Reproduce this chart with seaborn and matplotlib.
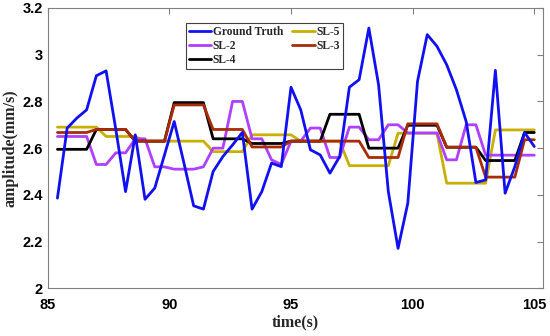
import numpy as np
import pandas as pd
import matplotlib
matplotlib.use("Agg")
import matplotlib.pyplot as plt
import seaborn as sns

# ---------------- data ----------------
time_s = [85.4, 85.8, 86.2, 86.6, 87.0, 87.4, 87.8, 88.2, 88.6, 89.0,
          89.4, 89.8, 90.2, 90.6, 91.0, 91.4, 91.8, 92.2, 92.6, 93.0,
          93.4, 93.8, 94.2, 94.6, 95.0, 95.4, 95.8, 96.2, 96.6, 97.0,
          97.4, 97.8, 98.2, 98.6, 99.0, 99.4, 99.8, 100.2, 100.6, 101.0,
          101.4, 101.8, 102.2, 102.6, 103.0, 103.4, 103.8, 104.2, 104.6, 105.0]

ground_truth = [2.386, 2.686, 2.729, 2.764, 2.910, 2.931, 2.680, 2.414, 2.657, 2.381,
                2.429, 2.571, 2.714, 2.536, 2.353, 2.339, 2.500, 2.564, 2.614, 2.667,
                2.339, 2.414, 2.536, 2.521, 2.861, 2.764, 2.593, 2.571, 2.493, 2.564,
                2.861, 2.893, 3.114, 2.871, 2.414, 2.171, 2.364, 2.886, 3.086, 3.036,
                2.957, 2.850, 2.714, 2.453, 2.464, 2.933, 2.407, 2.521, 2.667, 2.607]

sl2 = [2.650, 2.650, 2.650, 2.650, 2.530, 2.530, 2.580, 2.580, 2.640, 2.640,
       2.520, 2.520, 2.510, 2.510, 2.510, 2.520, 2.600, 2.600, 2.800, 2.800,
       2.640, 2.640, 2.550, 2.530, 2.630, 2.630, 2.686, 2.686, 2.560, 2.560,
       2.690, 2.690, 2.636, 2.636, 2.700, 2.700, 2.665, 2.665, 2.665, 2.665,
       2.550, 2.550, 2.700, 2.700, 2.570, 2.570, 2.570, 2.570, 2.570, 2.570]

sl3 = [2.667, 2.667, 2.667, 2.667, 2.680, 2.680, 2.680, 2.680, 2.630, 2.630,
       2.630, 2.630, 2.785, 2.785, 2.785, 2.785, 2.680, 2.680, 2.680, 2.680,
       2.605, 2.605, 2.605, 2.605, 2.630, 2.630, 2.630, 2.630, 2.630, 2.630,
       2.630, 2.630, 2.560, 2.560, 2.560, 2.560, 2.704, 2.704, 2.704, 2.704,
       2.604, 2.604, 2.604, 2.604, 2.476, 2.476, 2.476, 2.476, 2.636, 2.636]

sl4 = [2.595, 2.595, 2.595, 2.595, 2.680, 2.680, 2.680, 2.680, 2.630, 2.630,
       2.630, 2.630, 2.795, 2.795, 2.795, 2.795, 2.640, 2.640, 2.640, 2.640,
       2.620, 2.620, 2.620, 2.620, 2.630, 2.630, 2.630, 2.630, 2.745, 2.745,
       2.745, 2.745, 2.600, 2.600, 2.600, 2.600, 2.698, 2.698, 2.698, 2.698,
       2.604, 2.604, 2.604, 2.604, 2.547, 2.547, 2.547, 2.547, 2.667, 2.667]

sl5 = [2.690, 2.690, 2.690, 2.690, 2.690, 2.650, 2.650, 2.650, 2.650, 2.630,
       2.630, 2.630, 2.630, 2.630, 2.630, 2.630, 2.585, 2.585, 2.585, 2.585,
       2.657, 2.657, 2.657, 2.657, 2.657, 2.630, 2.630, 2.630, 2.630, 2.630,
       2.525, 2.525, 2.525, 2.525, 2.525, 2.664, 2.664, 2.664, 2.664, 2.664,
       2.450, 2.450, 2.450, 2.450, 2.450, 2.678, 2.678, 2.678, 2.678, 2.678]

series_names = ["Ground Truth", "SL-5", "SL-2", "SL-4", "SL-3"]
series_values = [ground_truth, sl5, sl2, sl4, sl3]
series_colors = ["#1010f0", "#c8b000", "#b040ff", "#000000", "#a82c08"]
series_z = [6, 2, 3, 4, 5]

x_ticks = [85, 90, 95, 100, 105]
y_ticks = [2.0, 2.2, 2.4, 2.6, 2.8, 3.0, 3.2]
y_tick_labels = ["2", "2.2", "2.4", "2.6", "2.8", "3", "3.2"]

# ---------------- plot ----------------
sns.set_style("white")
plt.rcParams["font.family"] = ["Liberation Serif", "DejaVu Serif"]

fig = plt.figure(figsize=(5.5, 3.36), dpi=100)
ax = fig.add_axes([47.7 / 550, (336 - 288.3) / 336, 495.6 / 550, 280.3 / 336])

for name, vals, col, z in zip(series_names, series_values, series_colors, series_z):
    df = pd.DataFrame({"t": time_s, "v": vals})
    sns.lineplot(data=df, x="t", y="v", ax=ax, color=col, linewidth=2.0,
                 estimator=None, sort=False, zorder=z, label=name)

h, l = ax.get_legend_handles_labels()
hmap = dict(zip(l, h))
order = ["Ground Truth", "SL-2", "SL-4", "SL-5", "SL-3"]
leg = ax.legend([hmap[o] for o in order], order, ncol=2, loc="upper left",
                bbox_to_anchor=(0.279, 0.946), borderaxespad=0,
                prop={"family": "Liberation Serif", "weight": "bold", "size": 8.3},
                handlelength=1.95, handletextpad=0.12, labelspacing=0.17,
                columnspacing=0.8, borderpad=0.25, fancybox=False, framealpha=1)
leg.get_frame().set_edgecolor("#404040")
leg.get_frame().set_linewidth(0.8)

ax.set_xlim(85, 105.37)
ax.set_ylim(2.0, 3.2)
ax.set_xticks(x_ticks)
ax.set_xticklabels([str(x) for x in x_ticks])
ax.set_yticks(y_ticks)
ax.set_yticklabels(y_tick_labels)

for lab in ax.get_xticklabels() + ax.get_yticklabels():
    lab.set_family("Liberation Sans")
    lab.set_fontweight("bold")
    lab.set_fontsize(10.5)

ax.tick_params(direction="in", length=4, width=0.8, color="#808080",
               top=True, right=True, labelcolor="black")
ax.tick_params(axis="x", pad=7)
ax.tick_params(axis="y", pad=3.5)
for s in ax.spines.values():
    s.set_visible(True)
    s.set_color("#808080")
    s.set_linewidth(0.8)

ax.set_xlabel("time(s)", fontsize=11.5, fontweight="bold",
              family="Liberation Serif", labelpad=2)
ax.set_ylabel("amplitude(mm/s)", fontsize=11.5, fontweight="bold",
              family="Liberation Serif", labelpad=3)

fig.savefig("out.png", dpi=100)
